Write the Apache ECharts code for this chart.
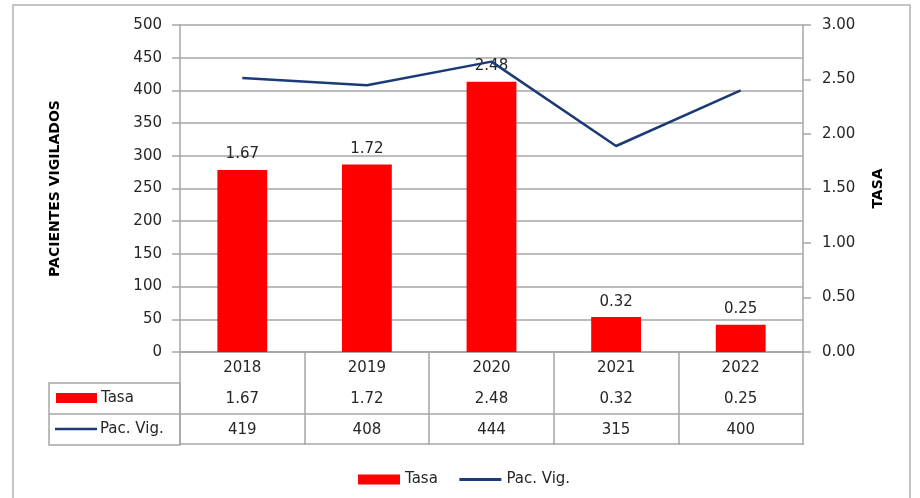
<!DOCTYPE html>
<html>
<head>
<meta charset="utf-8">
<script src="https://cdn.jsdelivr.net/npm/echarts@6/dist/echarts.min.js"></script>
<style>
  html, body { margin: 0; padding: 0; background: #fff; }
  #chart { width: 920px; height: 498px; }
</style>
</head>
<body>
<div id="chart"></div>
<script>
// datos
const years = ["2018", "2019", "2020", "2021", "2022"];
const tasa = [1.67, 1.72, 2.48, 0.32, 0.25];
const pacVig = [419, 408, 444, 315, 400];
const leftTicks = { min: 0, max: 500, step: 50 };
const rightTicks = { min: 0, max: 3, step: 0.5 };

const FONT = "DejaVu Sans";
const FS = 15;
const GRID = "#a6a6a6";
const TEXT = "#262626";
const RED = "#ff0000";
const NAVY = "#1b3a78";
const ROW = 31; // alto de fila de la tabla

const chart = echarts.init(document.getElementById("chart"));

// filas extra de la tabla (ejes categoría desplazados)
const rowAxis = (labels, offset) => ({
  type: "category",
  data: labels,
  position: "bottom",
  offset: offset,
  axisLine: { show: true, lineStyle: { color: GRID, width: 1.5 } },
  axisTick: { show: false },
  axisLabel: { margin: 9, color: TEXT, fontFamily: FONT, fontSize: FS }
});

chart.setOption({
  animation: false,
  textStyle: { fontFamily: FONT },
  grid: { left: 180, right: 117, top: 25, bottom: 146 },
  legend: {
    data: [
      { name: "Tasa", icon: "rect" },
      { name: "Pac. Vig.", itemStyle: { opacity: 0 }, lineStyle: { width: 3 } }
    ],
    left: 353,
    top: 467,
    itemWidth: 42,
    itemHeight: 10,
    itemGap: 20,
    textStyle: { color: TEXT, fontFamily: FONT, fontSize: FS }
  },
  xAxis: [
    {
      type: "category",
      data: years,
      axisLine: { lineStyle: { color: GRID, width: 1.5 } },
      axisTick: {
        show: true,
        interval: 0,
        length: ROW * 3,
        lineStyle: { color: GRID, width: 1.5 }
      },
      axisLabel: { margin: 9, color: TEXT, fontFamily: FONT, fontSize: FS }
    },
    rowAxis(tasa.map(v => v.toFixed(2)), ROW),
    rowAxis(pacVig.map(String), ROW * 2),
    rowAxis(years.map(() => ""), ROW * 3 - 1)
  ],
  yAxis: [
    {
      type: "value",
      name: "PACIENTES VIGILADOS",
      nameLocation: "middle",
      nameRotate: 90,
      nameGap: 118,
      nameTextStyle: { color: "#000", fontWeight: "bold", fontSize: 14, fontFamily: FONT },
      min: leftTicks.min,
      max: leftTicks.max,
      interval: leftTicks.step,
      axisLine: { show: true, lineStyle: { color: GRID, width: 1.5 } },
      axisTick: { show: true, length: 8, lineStyle: { color: GRID, width: 1.5 } },
      axisLabel: { margin: 18, color: TEXT, fontFamily: FONT, fontSize: FS },
      splitLine: { lineStyle: { color: GRID, width: 1.5 } }
    },
    {
      type: "value",
      name: "TASA",
      nameLocation: "middle",
      nameRotate: 90,
      nameGap: 68,
      nameTextStyle: { color: "#000", fontWeight: "bold", fontSize: 14, fontFamily: FONT },
      min: rightTicks.min,
      max: rightTicks.max,
      interval: rightTicks.step,
      axisLine: { show: true, lineStyle: { color: GRID, width: 1.5 } },
      axisTick: { show: true, length: 8, lineStyle: { color: GRID, width: 1.5 } },
      axisLabel: {
        margin: 19,
        color: TEXT,
        fontFamily: FONT,
        fontSize: FS,
        formatter: v => v.toFixed(2)
      },
      splitLine: { show: false }
    }
  ],
  series: [
    {
      name: "Tasa",
      type: "bar",
      yAxisIndex: 1,
      data: tasa,
      barWidth: "40%",
      itemStyle: { color: RED },
      label: {
        show: true,
        position: "top",
        distance: 8,
        color: TEXT,
        fontFamily: FONT,
        fontSize: FS,
        formatter: p => p.value.toFixed(2)
      }
    },
    {
      name: "Pac. Vig.",
      type: "line",
      yAxisIndex: 0,
      data: pacVig,
      symbol: "none",
      lineStyle: { color: NAVY, width: 2.5 },
      itemStyle: { color: NAVY },
      z: 3
    }
  ],
  graphic: [
    // marco exterior
    {
      type: "rect",
      shape: { x: 13, y: 5, width: 897, height: 520 },
      style: { fill: "none", stroke: "#b3b3b3", lineWidth: 1.5 },
      silent: true
    },
    // cabecera de filas de la tabla
    {
      type: "rect",
      shape: { x: 49, y: 383, width: 131, height: ROW * 2 },
      style: { fill: "none", stroke: GRID, lineWidth: 1.5 },
      silent: true
    },
    {
      type: "line",
      shape: { x1: 49, y1: 383 + ROW, x2: 180, y2: 383 + ROW },
      style: { stroke: GRID, lineWidth: 1.5 },
      silent: true
    },
    {
      type: "rect",
      shape: { x: 56, y: 393, width: 41, height: 10 },
      style: { fill: RED },
      silent: true
    },
    {
      type: "text",
      x: 101, y: 398,
      style: { text: "Tasa", fill: TEXT, font: "15px DejaVu Sans", textVerticalAlign: "middle" },
      silent: true
    },
    {
      type: "line",
      shape: { x1: 55, y1: 429, x2: 97, y2: 429 },
      style: { stroke: NAVY, lineWidth: 2.5 },
      silent: true
    },
    {
      type: "text",
      x: 100, y: 429,
      style: { text: "Pac. Vig.", fill: TEXT, font: "15px DejaVu Sans", textVerticalAlign: "middle" },
      silent: true
    }
  ]
});
</script>
</body>
</html>
